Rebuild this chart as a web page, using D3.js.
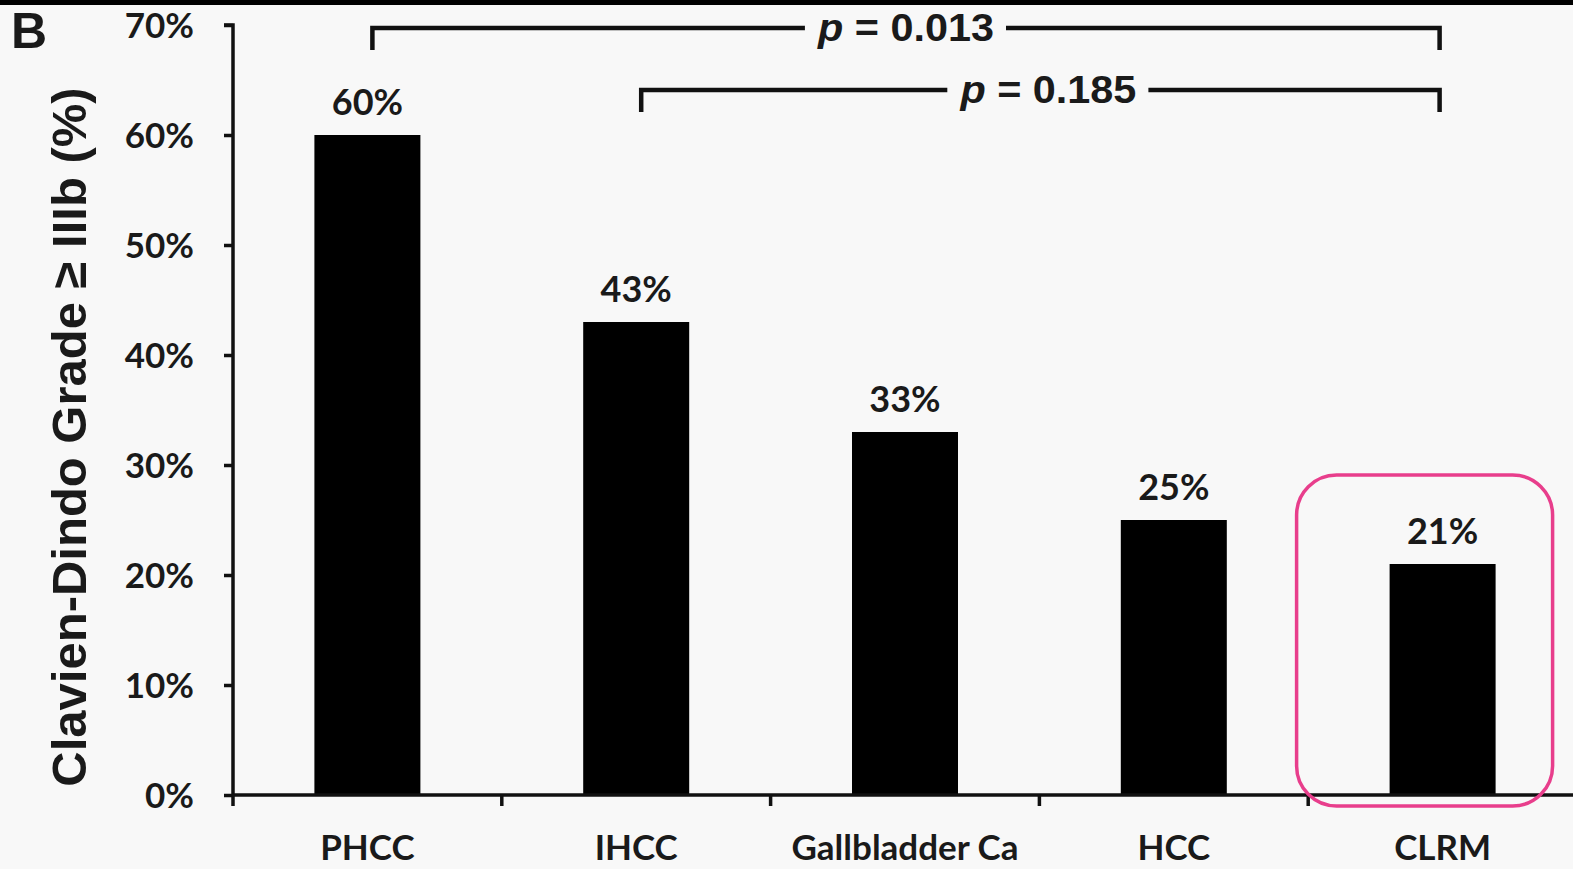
<!DOCTYPE html>
<html>
<head>
<meta charset="utf-8">
<script src="https://cdn.jsdelivr.net/npm/d3@7"></script>
<style>
  html, body { margin: 0; padding: 0; background: #f8f8f8; }
  svg { display: block; }
</style>
</head>
<body>
<div id="chart"></div>
<script>
// Complication rates (Clavien-Dindo grade >= IIIb) by diagnosis
const categories = ["PHCC", "IHCC", "Gallbladder Ca", "HCC", "CLRM"];
const rates = [60, 43, 33, 25, 21];
const yTicks = [0, 10, 20, 30, 40, 50, 60, 70];
const comparisons = [
  { from: "PHCC", to: "CLRM", p: "0.013" },
  { from: "IHCC", to: "CLRM", p: "0.185" }
];
const highlighted = "CLRM";

const W = 1573, H = 869;
const font = "Lato, 'Open Sans', sans-serif";
const ink = "#1a1a1a";

const svg = d3.select("#chart").append("svg")
  .attr("width", W).attr("height", H);

svg.append("rect").attr("width", W).attr("height", H).attr("fill", "#f8f8f8");
svg.append("rect").attr("width", W).attr("height", 5).attr("fill", "#000");

const x0 = 233, x1 = 1577, yBase = 795, yTop = 25;

const x = d3.scaleBand().domain(categories).range([x0, x1]);
const y = d3.scaleLinear().domain([0, 70]).range([yBase, yTop]);
const cx = d => x(d) + x.bandwidth() / 2;
const barW = 106;

// bars
svg.append("g").selectAll("rect").data(categories).join("rect")
  .attr("x", d => cx(d) - barW / 2)
  .attr("width", barW)
  .attr("y", (d, i) => y(rates[i]))
  .attr("height", (d, i) => yBase - y(rates[i]))
  .attr("fill", "#000");

// y axis
const yAxis = svg.append("g").attr("transform", `translate(${x0},0)`)
  .call(d3.axisLeft(y).tickValues(yTicks).tickFormat(d => d + "%").tickSize(9).tickPadding(30));
yAxis.select(".domain").attr("stroke", "#111").attr("stroke-width", 3.5).attr("d", `M-9,${yTop}H0V${yBase}`);
yAxis.selectAll(".tick line").attr("stroke", "#111").attr("stroke-width", 3.5);
yAxis.selectAll(".tick text")
  .attr("font-family", font).attr("font-weight", 700).attr("font-size", 35).attr("fill", ink)
  .attr("dy", "0.35em");

// x axis: ticks at band boundaries, labels at band centres
const xAxisG = svg.append("g");
xAxisG.append("line").attr("x1", x0).attr("x2", W).attr("y1", yBase).attr("y2", yBase)
  .attr("stroke", "#111").attr("stroke-width", 3.5);
xAxisG.selectAll("line.tick").data(categories).join("line").attr("class", "tick")
  .attr("x1", d => x(d)).attr("x2", d => x(d))
  .attr("y1", yBase).attr("y2", yBase + 11)
  .attr("stroke", "#111").attr("stroke-width", 3.5);
xAxisG.selectAll("text").data(categories).join("text")
  .attr("x", cx)
  .attr("y", 860)
  .attr("text-anchor", "middle")
  .attr("font-family", font).attr("font-weight", 700).attr("font-size", 35).attr("fill", ink)
  .text(d => d);

// value labels
svg.append("g").selectAll("text").data(categories).join("text")
  .attr("x", cx)
  .attr("y", (d, i) => y(rates[i]) - 20)
  .attr("text-anchor", "middle")
  .attr("font-family", font).attr("font-weight", 700).attr("font-size", 36).attr("fill", ink)
  .text((d, i) => rates[i] + "%");

// y title
svg.append("text")
  .attr("transform", "translate(86,437) rotate(-90)")
  .attr("text-anchor", "middle")
  .attr("font-family", "'Liberation Sans', Arial, sans-serif").attr("font-weight", 700)
  .attr("font-size", 49).attr("fill", ink)
  .text("Clavien-Dindo Grade \u2265 IIIb (%)");

// panel letter
svg.append("text").attr("x", 11).attr("y", 48)
  .attr("font-family", "'Liberation Sans', Arial, sans-serif").attr("font-weight", 700)
  .attr("font-size", 50).attr("fill", ink)
  .text("B");

// significance brackets
const bracketY = [28, 90];
const labelShift = [0, 8];
const legLen = 22;
comparisons.forEach((c, k) => {
  const xa = cx(c.from) + 5;
  const xb = cx(c.to) - 3;
  const yb = bracketY[k];
  const g = svg.append("g");
  const label = g.append("text")
    .attr("x", (xa + xb) / 2 + labelShift[k])
    .attr("y", yb + 13)
    .attr("text-anchor", "middle")
    .attr("font-family", "'Liberation Sans', Arial, sans-serif").attr("font-weight", 700)
    .attr("font-size", 38).attr("fill", ink)
    .attr("textLength", 176).attr("lengthAdjust", "spacingAndGlyphs");
  label.append("tspan").attr("font-style", "italic").text("p");
  label.append("tspan").text(" = " + c.p);
  const bb = label.node().getBBox();
  const gap = 12;
  g.append("path")
    .attr("d", `M${xa},${yb + legLen}V${yb}H${bb.x - gap}M${bb.x + bb.width + gap},${yb}H${xb}V${yb + legLen}`)
    .attr("fill", "none").attr("stroke", "#111").attr("stroke-width", 4.5);
});

// highlight box around the selected category
const hx = cx(highlighted);
svg.append("rect")
  .attr("x", hx - 146).attr("y", 475)
  .attr("width", 256).attr("height", 331)
  .attr("rx", 40).attr("ry", 40)
  .attr("fill", "none").attr("stroke", "#e83e8c").attr("stroke-width", 3.5);
</script>
</body>
</html>
